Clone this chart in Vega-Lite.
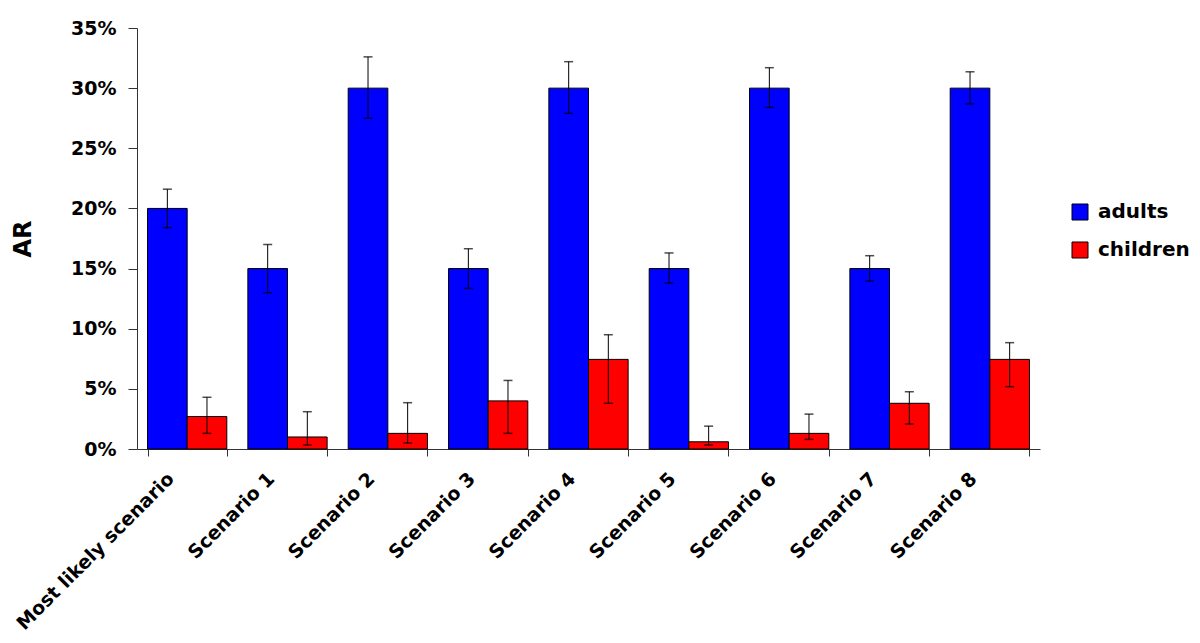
{
  "$schema": "https://vega.github.io/schema/vega-lite/v6.json",
  "width": 903,
  "height": 421,
  "autosize": {"type": "none"},
  "padding": {"left": 137, "top": 28, "right": 160, "bottom": 194},
  "background": "white",
  "config": {"view": {"stroke": null}, "font": "DejaVu Sans"},
  "data": {
    "values": [
      {"scenario": "Most likely scenario", "group": "adults", "value": 0.20, "lo": 0.184, "hi": 0.216},
      {"scenario": "Most likely scenario", "group": "children", "value": 0.027, "lo": 0.013, "hi": 0.043},
      {"scenario": "Scenario 1", "group": "adults", "value": 0.15, "lo": 0.130, "hi": 0.170},
      {"scenario": "Scenario 1", "group": "children", "value": 0.010, "lo": 0.0033, "hi": 0.031},
      {"scenario": "Scenario 2", "group": "adults", "value": 0.30, "lo": 0.275, "hi": 0.326},
      {"scenario": "Scenario 2", "group": "children", "value": 0.013, "lo": 0.005, "hi": 0.0385},
      {"scenario": "Scenario 3", "group": "adults", "value": 0.15, "lo": 0.1335, "hi": 0.1665},
      {"scenario": "Scenario 3", "group": "children", "value": 0.040, "lo": 0.013, "hi": 0.057},
      {"scenario": "Scenario 4", "group": "adults", "value": 0.30, "lo": 0.279, "hi": 0.322},
      {"scenario": "Scenario 4", "group": "children", "value": 0.0745, "lo": 0.038, "hi": 0.095},
      {"scenario": "Scenario 5", "group": "adults", "value": 0.15, "lo": 0.138, "hi": 0.163},
      {"scenario": "Scenario 5", "group": "children", "value": 0.006, "lo": 0.0033, "hi": 0.019},
      {"scenario": "Scenario 6", "group": "adults", "value": 0.30, "lo": 0.284, "hi": 0.317},
      {"scenario": "Scenario 6", "group": "children", "value": 0.013, "lo": 0.008, "hi": 0.029},
      {"scenario": "Scenario 7", "group": "adults", "value": 0.15, "lo": 0.1396, "hi": 0.1607},
      {"scenario": "Scenario 7", "group": "children", "value": 0.038, "lo": 0.0208, "hi": 0.0476},
      {"scenario": "Scenario 8", "group": "adults", "value": 0.30, "lo": 0.287, "hi": 0.3136},
      {"scenario": "Scenario 8", "group": "children", "value": 0.0745, "lo": 0.0518, "hi": 0.0884}
    ]
  },
  "encoding": {
    "x": {
      "field": "scenario",
      "type": "nominal",
      "sort": ["Most likely scenario", "Scenario 1", "Scenario 2", "Scenario 3", "Scenario 4", "Scenario 5", "Scenario 6", "Scenario 7", "Scenario 8"],
      "scale": {"paddingInner": 0.21, "paddingOuter": 0.105},
      "axis": {
        "title": null,
        "labelAngle": -45,
        "labelFont": "DejaVu Sans",
        "labelFontSize": 19,
        "labelFontWeight": "bold",
        "labelColor": "#000",
        "labelPadding": 13,
        "labelOffset": -23,
        "labelLimit": 0,
        "labelOverlap": false,
        "tickBand": "extent",
        "tickSize": 7,
        "tickColor": "#333",
        "domainColor": "#333",
        "grid": false
      }
    },
    "xOffset": {
      "field": "group",
      "type": "nominal",
      "sort": ["adults", "children"],
      "scale": {"paddingInner": 0, "paddingOuter": 0}
    }
  },
  "layer": [
    {
      "mark": {"type": "bar", "stroke": "#000", "strokeWidth": 1},
      "encoding": {
        "y": {
          "field": "value",
          "type": "quantitative",
          "scale": {"domain": [0, 0.35], "nice": false},
          "axis": {
            "title": "AR",
            "titleFont": "DejaVu Sans",
            "titleFontSize": 24,
            "titleFontWeight": "bold",
            "titleColor": "#000",
            "titlePadding": 35,
            "labelFont": "DejaVu Sans",
            "labelFontSize": 19,
            "labelFontWeight": "bold",
            "labelColor": "#000",
            "labelPadding": 12,
            "format": ".0%",
            "values": [0, 0.05, 0.1, 0.15, 0.2, 0.25, 0.3, 0.35],
            "tickSize": 9,
            "tickColor": "#333",
            "domainColor": "#333",
            "grid": false
          }
        },
        "color": {
          "field": "group",
          "type": "nominal",
          "scale": {"domain": ["adults", "children"], "range": ["#0000ff", "#ff0000"]},
          "legend": {
            "title": null,
            "orient": "none",
            "legendX": 933,
            "legendY": 174,
            "symbolType": "square",
            "symbolSize": 256,
            "symbolStrokeColor": "#000",
            "symbolStrokeWidth": 1,
            "labelFont": "DejaVu Sans",
            "labelFontSize": 20,
            "labelFontWeight": "bold",
            "labelColor": "#000",
            "labelOffset": 8,
            "rowPadding": 18
          }
        }
      }
    },
    {
      "mark": {"type": "rule", "color": "#000", "strokeWidth": 1},
      "encoding": {
        "y": {"field": "lo", "type": "quantitative"},
        "y2": {"field": "hi"}
      }
    },
    {
      "mark": {"type": "tick", "color": "#000", "size": 9, "thickness": 1.5},
      "encoding": {"y": {"field": "lo", "type": "quantitative"}}
    },
    {
      "mark": {"type": "tick", "color": "#000", "size": 9, "thickness": 1.5},
      "encoding": {"y": {"field": "hi", "type": "quantitative"}}
    }
  ]
}
